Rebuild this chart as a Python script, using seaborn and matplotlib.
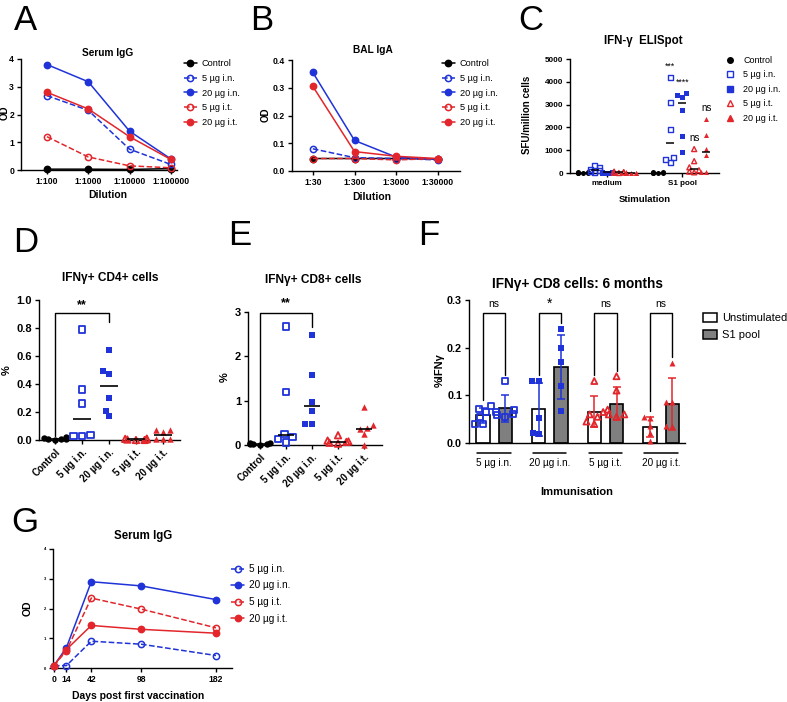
import numpy as np
import pandas as pd
import seaborn as sns
import matplotlib.pyplot as plt
from matplotlib.lines import Line2D
from matplotlib.patches import Patch

sns.set_theme(style="ticks")
plt.rcParams["font.family"] = ["Liberation Sans", "DejaVu Sans"]
plt.rcParams["axes.edgecolor"] = "black"
plt.rcParams["axes.linewidth"] = 1.0
plt.rcParams["xtick.color"] = "black"
plt.rcParams["ytick.color"] = "black"
plt.rcParams["text.color"] = "black"
plt.rcParams["axes.labelcolor"] = "black"

# ---- data ----
groups = ["Control", "5 µg i.n.", "20 µg i.n.", "5 µg i.t.", "20 µg i.t."]

# A: serum IgG by dilution
dil_A = ["1:100", "1:1000", "1:10000", "1:100000"]
A_control = [0.03, 0.03, 0.02, 0.05]
A_5in = [2.68, 2.15, 0.75, 0.2]
A_20in = [3.8, 3.18, 1.4, 0.4]
A_5it = [1.2, 0.47, 0.15, 0.08]
A_20it = [2.8, 2.2, 1.2, 0.38]

# B: BAL IgA by dilution
dil_B = ["1:30", "1:300", "1:3000", "1:30000"]
B_control = [0.045, 0.045, 0.045, 0.043]
B_5in = [0.08, 0.048, 0.045, 0.04]
B_20in = [0.355, 0.11, 0.05, 0.042]
B_5it = [0.045, 0.045, 0.04, 0.045]
B_20it = [0.305, 0.07, 0.053, 0.045]

# C: IFN-g ELISpot, SFU/million cells
stims_C = ["medium", "S1 pool"]
C_med_control = [20, 10, 30, 15, 25, 5]
C_med_5in = [310, 250, 160, 100, 60, 30]
C_med_20in = [60, 40, 20, 10, 30, 0]
C_med_5it = [60, 40, 20, 10, 30, 0]
C_med_20it = [30, 20, 10, 5, 15, 0]
C_s1_control = [20, 15, 25, 10, 30, 5]
C_s1_5in = [4200, 3100, 1900, 700, 600, 450]
C_s1_20in = [3500, 3420, 3350, 2750, 1620, 920]
C_s1_5it = [1050, 520, 250, 120, 60, 30]
C_s1_20it = [2350, 1650, 1050, 780, 30, 30]
C_sig = ["", "***", "****", "ns", "ns"]

# D: IFNg+ CD4+ cells (%)
D_control = [0.02, 0.015, 0.01, 0.005, 0.01, 0.0]
D_5in = [0.79, 0.36, 0.26, 0.035, 0.03, 0.03]
D_20in = [0.64, 0.49, 0.47, 0.30, 0.21, 0.17]
D_5it = [0.01, 0.008, 0.005, 0.003, 0.0, 0.0]
D_20it = [0.07, 0.07, 0.06, 0.01, 0.01, 0.01]

# E: IFNg+ CD8+ cells (%)
E_control = [0.05, 0.04, 0.03, 0.02, 0.03, 0.01]
E_5in = [2.67, 1.2, 0.25, 0.18, 0.13, 0.06]
E_20in = [2.47, 1.57, 0.97, 0.77, 0.47, 0.47]
E_5it = [0.22, 0.1, 0.08, 0.07, 0.05, 0.03]
E_20it = [0.85, 0.45, 0.38, 0.36, 0.25, 0.0]

# F: IFNg+ CD8 at 6 months (%IFNg)
F_groups = ["5 µg i.n.", "20 µg i.n.", "5 µg i.t.", "20 µg i.t."]
F_stims = ["Unstimulated", "S1 pool"]
F_5in_unstim = [0.078, 0.072, 0.065, 0.055, 0.04, 0.04]
F_5in_s1 = [0.13, 0.07, 0.065, 0.06, 0.058, 0.055]
F_20in_unstim = [0.13, 0.13, 0.052, 0.022, 0.018]
F_20in_s1 = [0.24, 0.20, 0.17, 0.12, 0.068]
F_5it_unstim = [0.13, 0.065, 0.06, 0.055, 0.045, 0.04]
F_5it_s1 = [0.14, 0.11, 0.07, 0.06, 0.06, 0.055]
F_20it_unstim = [0.055, 0.053, 0.035, 0.02, 0.005]
F_20it_s1 = [0.168, 0.085, 0.085, 0.035, 0.035]
F_sig = ["ns", "*", "ns", "ns"]

# G: serum IgG over time
G_days = [0, 14, 42, 98, 182]
G_5in = [0.08, 0.08, 0.9, 0.8, 0.42]
G_20in = [0.08, 0.68, 2.9, 2.76, 2.3]
G_5it = [0.08, 0.58, 2.35, 1.98, 1.35]
G_20it = [0.08, 0.62, 1.43, 1.3, 1.17]

# ---- styles ----
BLUE = "#1f33d8"
RED = "#e2262b"
col = {"Control": "black", "5 µg i.n.": BLUE, "20 µg i.n.": BLUE, "5 µg i.t.": RED, "20 µg i.t.": RED}
hollow = {"Control": False, "5 µg i.n.": True, "20 µg i.n.": False, "5 µg i.t.": True, "20 µg i.t.": False}
lstyle = {g: ("--" if hollow[g] else "-") for g in groups}
dotmark = {"Control": "o", "5 µg i.n.": "s", "20 µg i.n.": "s", "5 µg i.t.": "^", "20 µg i.t.": "^"}

W, H = 787, 702
fig = plt.figure(figsize=(W / 100, H / 100), dpi=100)


def box(l, t, r, b):
    return [l / W, 1 - b / H, (r - l) / W, (b - t) / H]


def put(x, y, s, size, bold=True, rot=0):
    fig.text(x / W, 1 - y / H, s, fontsize=size, fontweight="bold" if bold else "normal",
             ha="center", va="center", rotation=rot)


def tidy(ax):
    sns.despine(ax=ax)
    ax.tick_params(direction="out", length=3, width=1, pad=2)
    ax.set_xlabel("")
    ax.set_ylabel("")


def draw_line(ax, x, y, g):
    c = col[g]
    sns.lineplot(x=x, y=y, ax=ax, color=c, linestyle=lstyle[g], linewidth=1.1,
                 marker="o", markersize=4.5, markerfacecolor="none" if hollow[g] else c,
                 markeredgecolor=c, markeredgewidth=1.1, clip_on=False, zorder=3)


def line_handles(names, ms=4.5):
    return [Line2D([], [], color=col[g], ls=lstyle[g], lw=1.1, marker="o", ms=ms,
                   mfc="none" if hollow[g] else col[g], mec=col[g], mew=1.1) for g in names]


def open_up(ax, n0, g, lw=1.1):
    for coll in ax.collections[n0:]:
        if len(coll.get_offsets()) == 0:
            coll.remove()
        elif hollow[g]:
            coll.set_facecolor("none")
            coll.set_edgecolor(col[g])
            coll.set_linewidth(lw)


def swarm_at(ax, pos, vals, g, size, lw):
    # one swarm centred on a numeric position
    n0 = len(ax.collections)
    sns.swarmplot(x=np.full(len(vals), pos), y=vals, native_scale=True, orient="x",
                  color=col[g], marker=dotmark[g], size=size, ax=ax, zorder=4,
                  clip_on=False, warn_thresh=1)
    open_up(ax, n0, g, lw)


def legend_at(ax, handles, labels, x, y, size, **kw):
    ax.legend(handles, labels, loc="upper left", bbox_to_anchor=(x / W, 1 - y / H),
              bbox_transform=fig.transFigure, frameon=False, fontsize=size,
              borderpad=0, borderaxespad=0, **kw)


# ---- A ----
axA = fig.add_axes(box(21, 59, 177, 170))
xA = np.arange(len(dil_A))
for g, v in zip(groups, [A_control, A_5in, A_20in, A_5it, A_20it]):
    draw_line(axA, xA, v, g)
axA.set_xlim(-0.63, 3.15)
axA.set_ylim(0, 4)
axA.set_xticks(xA, dil_A, fontsize=6.2, fontweight="bold")
axA.set_yticks(range(5), [str(i) for i in range(5)], fontsize=6.2, fontweight="bold")
tidy(axA)
legend_at(axA, line_handles(groups), groups, 184, 59, 6.6,
          handlelength=1.4, handletextpad=0.55, labelspacing=0.63)
put(108, 53, "Serum IgG", 7.3)
put(5, 113, "OD", 7, rot=90)
put(108, 195, "Dilution", 7.5)

# ---- B ----
axB = fig.add_axes(box(292, 60, 460, 171))
xB = np.arange(len(dil_B))
for g, v in zip(groups, [B_control, B_5in, B_20in, B_5it, B_20it]):
    draw_line(axB, xB, v, g)
axB.set_xlim(-0.5, 3.53)
axB.set_ylim(0, 0.4)
axB.set_xticks(xB, dil_B, fontsize=6.2, fontweight="bold")
yb = [0, 0.1, 0.2, 0.3, 0.4]
axB.set_yticks(yb, [f"{v:.1f}" for v in yb], fontsize=6.2, fontweight="bold")
tidy(axB)
legend_at(axB, line_handles(groups), groups, 442, 59, 6.6,
          handlelength=1.4, handletextpad=0.55, labelspacing=0.63)
put(373, 50, "BAL IgA", 7.3)
put(266, 115, "OD", 7, rot=90)
put(372, 197, "Dilution", 7.5)

# ---- C ----
# x runs in sub-slot units so each swarm stays inside its own slot
SC = 0.16
axC = fig.add_axes(box(570, 59, 719, 173))
C_med = [C_med_control, C_med_5in, C_med_20in, C_med_5it, C_med_20it]
C_s1 = [C_s1_control, C_s1_5in, C_s1_20in, C_s1_5it, C_s1_20it]
for si, series in enumerate([C_med, C_s1]):
    for hi, g in enumerate(groups):
        vals = np.array(series[hi])
        p = (si + (hi - 2) * SC) / SC
        swarm_at(axC, p, vals, g, 3.6, 1.0)
        axC.hlines(np.median(vals), p - 0.055 / SC, p + 0.055 / SC, color="black", lw=1.1, zorder=5)
        if si == 1 and C_sig[hi]:
            axC.text(p, vals.max() + 480, C_sig[hi], ha="center", va="center",
                     fontsize=6.3 if "*" in C_sig[hi] else 7)
axC.set_xlim(-0.49 / SC, 1.49 / SC)
axC.set_ylim(0, 5000)
axC.set_xticks([0, 1 / SC], stims_C, fontsize=5.8, fontweight="bold")
axC.set_yticks(range(0, 5001, 1000), [str(v) for v in range(0, 5001, 1000)],
               fontsize=5.9, fontweight="bold")
tidy(axC)
hC = [Line2D([], [], ls="none", marker=dotmark[g], ms=4, mfc="none" if hollow[g] else col[g],
             mec=col[g], mew=1.0) for g in groups]
legend_at(axC, hC, groups, 726, 56, 6.5, handlelength=0.8, handletextpad=1.1, labelspacing=0.6)
put(643, 41, "IFN-γ  ELISpot", 8.3)
put(527, 115, "SFU/million cells", 7, rot=90)
put(645, 199, "Stimulation", 6.8)


# ---- D / E ----
def dot_panel(ax, series, ylim, yt, ylab, xlim, bracket, stars_y):
    for i, (g, v) in enumerate(zip(groups, series)):
        n0 = len(ax.collections)
        sns.swarmplot(x=[g] * len(v), y=v, order=groups, color=col[g], marker=dotmark[g],
                      size=4.6, ax=ax, zorder=3, clip_on=False, warn_thresh=1)
        open_up(ax, n0, g, 1.3)
        ax.hlines(np.median(v), i - 0.32, i + 0.32, color="black", lw=1.2, zorder=4)
    x0, x1, top, lb, rb = bracket
    ax.plot([x0, x0, x1, x1], [lb, top, top, rb], color="black", lw=1.0, clip_on=False)
    ax.text((x0 + x1) / 2, stars_y, "**", ha="center", va="center", fontsize=9,
            fontweight="bold", clip_on=False)
    ax.set_xlim(*xlim)
    ax.set_ylim(*ylim)
    ax.set_xticks(range(len(groups)), groups, fontsize=7, fontweight="bold", rotation=45,
                  ha="right", rotation_mode="anchor")
    ax.set_yticks(yt, ylab, fontsize=8, fontweight="bold")
    tidy(ax)


axD = fig.add_axes(box(39, 300, 180, 440))
yd = [0, 0.2, 0.4, 0.6, 0.8, 1.0]
dot_panel(axD, [D_control, D_5in, D_20in, D_5it, D_20it], (0, 1.0), yd,
          [f"{v:.1f}" for v in yd], (-0.59, 4.63), (0, 2, 0.91, 0.03, 0.84), 0.965)
put(110, 278, "IFNγ+ CD4+ cells", 8.6)
put(7, 370, "%", 8, rot=90)

axE = fig.add_axes(box(248, 312, 382, 445))
dot_panel(axE, [E_control, E_5in, E_20in, E_5it, E_20it], (0, 3), [0, 1, 2, 3],
          ["0", "1", "2", "3"], (-0.46, 4.69), (0, 2, 2.97, 0.06, 2.67), 3.2)
put(313, 280, "IFNγ+ CD8+ cells", 8.6)
put(225, 377, "%", 8, rot=90)

# ---- F ----
# x runs in units of 0.4 group widths (bar pair offset = +-0.5)
FS = 0.4
axF = fig.add_axes(box(469, 300, 685, 443))
F_lists = [[F_5in_unstim, F_5in_s1], [F_20in_unstim, F_20in_s1],
           [F_5it_unstim, F_5it_s1], [F_20it_unstim, F_20it_s1]]
rows = []
for gi, (g, pair) in enumerate(zip(F_groups, F_lists)):
    for si, (s, vals) in enumerate(zip(F_stims, pair)):
        rows += [(g, s, gi / FS + si - 0.5, v) for v in vals]
dfF = pd.DataFrame(rows, columns=["group", "stim", "pos", "val"])
sns.barplot(data=dfF, x="pos", y="val", hue="stim", hue_order=F_stims, native_scale=True,
            dodge=False, palette={"Unstimulated": "white", "S1 pool": "#7f7f7f"},
            errorbar=None, width=0.6, edgecolor="black", linewidth=1.2, saturation=1,
            legend=False, ax=axF, zorder=1)
for gi, g in enumerate(F_groups):
    legs, xs = [], []
    for si, s in enumerate(F_stims):
        sub = dfF[(dfF.group == g) & (dfF.stim == s)]
        vals = sub.val
        p = sub.pos.iloc[0]
        m, sd = vals.mean(), vals.std()
        axF.errorbar(p, m, yerr=sd, fmt="none", ecolor=col[g],
                     elinewidth=1.1, capsize=3, capthick=1.1, zorder=3)
        swarm_at(axF, p, vals.values, g, 4.3, 1.3)
        legs.append(max(vals.max(), m + sd) + 0.012)
        xs.append(p)
    axF.plot([xs[0], xs[0], xs[1], xs[1]], [legs[0], 0.273, 0.273, legs[1]], color="black",
             lw=1.0, clip_on=False)
    axF.text(gi / FS, 0.292, F_sig[gi], ha="center", va="center",
             fontsize=10 if F_sig[gi] == "*" else 7.5, clip_on=False)
    axF.plot([(gi - 0.3) / FS, (gi + 0.3) / FS], [-0.07, -0.07], color="black", lw=1.1,
             transform=axF.get_xaxis_transform(), clip_on=False)
    axF.text(gi / FS, -0.14, g, ha="center", va="center", fontsize=7.2,
             transform=axF.get_xaxis_transform())
axF.set_xlim(-0.45 / FS, 3.43 / FS)
axF.set_ylim(0, 0.3)
axF.set_xticks([])
yf = [0, 0.1, 0.2, 0.3]
axF.set_yticks(yf, [f"{v:.1f}" for v in yf], fontsize=7.8, fontweight="bold")
tidy(axF)
axF.tick_params(axis="x", length=0)
hF = [Patch(facecolor="white", edgecolor="black", lw=1.1),
      Patch(facecolor="#7f7f7f", edgecolor="black", lw=1.1)]
legend_at(axF, hF, F_stims, 703, 313, 8, handlelength=1.25, handleheight=0.9,
          handletextpad=0.5, labelspacing=0.56)
put(577, 284, "IFNγ+ CD8 cells: 6 months", 9.8)
put(440, 370, "%IFNγ", 8, rot=90)
put(577, 492, "Immunisation", 8)

# ---- G ----
axG = fig.add_axes(box(53, 549, 232, 668))
G_names = groups[1:]
for g, v in zip(G_names, [G_5in, G_20in, G_5it, G_20it]):
    draw_line(axG, G_days, v, g)
axG.set_xlim(-1, 200)
axG.set_ylim(0, 4)
axG.set_xticks(G_days, [str(d) for d in G_days], fontsize=6.2, fontweight="bold")
axG.set_yticks(range(5), [str(i) for i in range(5)], fontsize=3, fontweight="bold")
tidy(axG)
legend_at(axG, line_handles(G_names), G_names, 231, 564, 7.2,
          handlelength=1.3, handletextpad=0.5, labelspacing=0.65)
put(143, 536, "Serum IgG", 8.3)
put(28, 608, "OD", 7.5, rot=90)
put(138, 696, "Days post first vaccination", 7.5)

# panel letters
for letter, (x, y) in zip("ABCDEFG", [(25, 21), (262, 21), (531, 21), (26, 243),
                                      (240, 235), (429, 235), (25, 522)]):
    put(x, y, letter, 25, bold=False)

fig.savefig("out.png", dpi=100)
